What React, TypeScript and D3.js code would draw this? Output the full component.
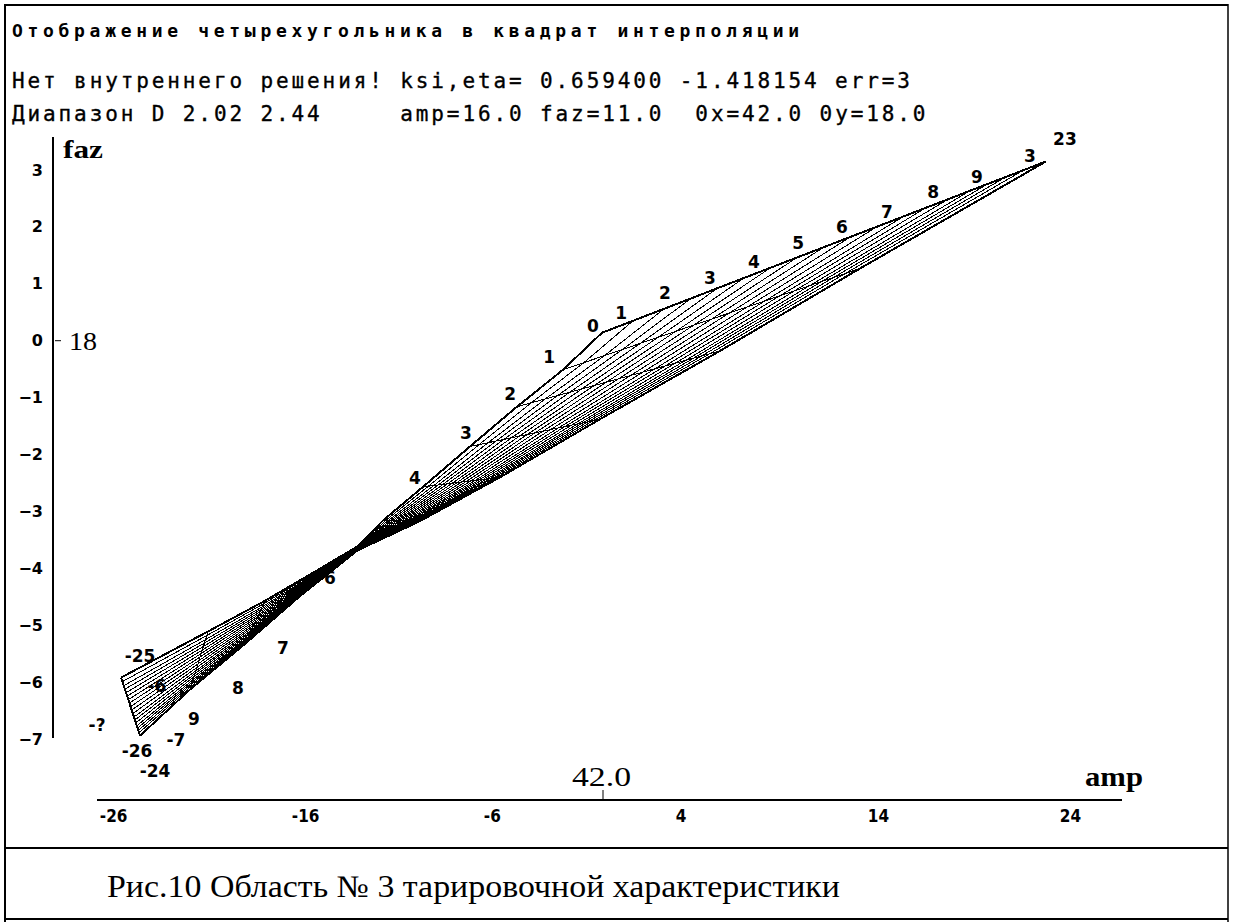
import React from 'react';
import * as d3 from 'd3';

const W = 1233;
const H = 922;

// Upper-left boundary of the quadrilateral: corner A -> waist -> knee D (amp, faz)
const upperAmp = [-25.1, -20.57, -17.6, -15.16, -12.81, -11.46, -9.38, -6.93, -4.48, -2.08, -0.05];
const upperFaz = [-5.92, -5.11, -4.57, -4.09, -3.62, -3.16, -2.57, -1.86, -1.16, -0.51, 0.14];
// Lower boundary: corner B -> waist -> corner C
const lowerAmp = [-24.11, -21.51, -18.65, -15.89, -12.81, -9.53, -5.36, -0.16, 6.09, 13.39, 23.07];
const lowerFaz = [-6.94, -6.13, -5.33, -4.52, -3.69, -3.17, -2.4, -1.38, -0.18, 1.27, 3.15];
// eta levels of the interpolation lines between the two boundaries
const etaLevels = [0, 0.07, 0.14, 0.2, 0.26, 0.32, 0.38, 0.44, 0.5, 0.56, 0.62, 0.68, 0.73, 0.78, 0.83, 0.87, 0.91, 0.95, 1];

const yTicks = [3, 2, 1, 0, -1, -2, -3, -4, -5, -6, -7];
const xTicks = [-26, -16, -6, 4, 14, 24];

const labelText = ['0', '1', '2', '3', '4', '5', '6', '7', '8', '9', '3', '23',
  '1', '2', '3', '4',
  '6', '7', '8', '9', '-7', '-25', '-6', '-26', '-24', '-?'];
const labelAmp = [-0.52, 0.94, 3.23, 5.57, 7.86, 10.16, 12.45, 14.79, 17.19, 19.48, 22.24, 24.06,
  -2.81, -4.84, -7.14, -9.79,
  -14.22, -16.67, -19.01, -21.3, -22.24, -24.11, -23.23, -24.27, -23.33, -26.35];
const labelFaz = [0.25, 0.49, 0.84, 1.11, 1.39, 1.72, 2.0, 2.27, 2.62, 2.88, 3.25, 3.55,
  -0.28, -0.93, -1.62, -2.41,
  -4.17, -5.4, -6.1, -6.64, -7.01, -5.54, -6.06, -7.21, -7.57, -6.75];

const titleText = 'Отображение четырехугольника в квадрат интерполяции';
const infoLine1 = 'Нет внутреннего решения! ksi,eta= 0.659400 -1.418154 err=3';
const infoLine2 = 'Диапазон D 2.02 2.44     amp=16.0 faz=11.0  0x=42.0 0y=18.0';
const caption = 'Рис.10 Область № 3 тарировочной характеристики';

const CELL = 15.55;

export default function App() {
  const x = d3.scaleLinear().domain([-26, 24]).range([103.8, 1063.8]);
  const y = d3.scaleLinear().domain([-7, 3]).range([739, 170]);
  const line = d3.line<[number, number]>().x((d) => x(d[0])).y((d) => y(d[1]));

  const n = upperAmp.length;
  const etaPaths = etaLevels.map((t) =>
    line(d3.range(n).map((k) => [
      upperAmp[k] * (1 - t) + lowerAmp[k] * t,
      upperFaz[k] * (1 - t) + lowerFaz[k] * t,
    ] as [number, number])) as string
  );
  const ksiPaths = d3.range(n).map((k) =>
    line([[upperAmp[k], upperFaz[k]], [lowerAmp[k], lowerFaz[k]]]) as string
  );
  const upperPath = line(d3.range(n).map((k) => [upperAmp[k], upperFaz[k]] as [number, number])) as string;
  const lowerPath = line(d3.range(n).map((k) => [lowerAmp[k], lowerFaz[k]] as [number, number])) as string;

  const mono = "'DejaVu Sans Mono', monospace";
  const serif = "'Liberation Serif', 'DejaVu Serif', serif";
  const sansB = "'DejaVu Sans', sans-serif";

  return (
    <svg width={W} height={H} style={{ position: 'absolute', left: 0, top: 0, background: '#fff' }}>
      <rect x={0} y={0} width={W} height={H} fill="#fff" />
      {/* frame */}
      <line x1={5} y1={5} x2={1228} y2={5} stroke="#000" strokeWidth={2} />
      <line x1={5} y1={4} x2={5} y2={922} stroke="#000" strokeWidth={2} />
      <line x1={1228} y1={4} x2={1228} y2={922} stroke="#000" strokeWidth={1.5} />
      <line x1={5} y1={848} x2={1228} y2={848} stroke="#000" strokeWidth={2} />
      <line x1={5} y1={919} x2={1228} y2={919} stroke="#000" strokeWidth={2} />

      {/* header texts */}
      <text x={12} y={37} fontFamily={mono} fontWeight="bold" fontSize={18}
        textLength={titleText.length * CELL - 6} lengthAdjust="spacing">{titleText}</text>
      <text x={12} y={88} fontFamily={mono} fontSize={21} stroke="#000" strokeWidth={0.35}
        xmlSpace="preserve" style={{ whiteSpace: 'pre' }}
        textLength={infoLine1.length * CELL - 4} lengthAdjust="spacing">{infoLine1}</text>
      <text x={12} y={121} fontFamily={mono} fontSize={21} stroke="#000" strokeWidth={0.35}
        xmlSpace="preserve" style={{ whiteSpace: 'pre' }}
        textLength={infoLine2.length * CELL - 4} lengthAdjust="spacing">{infoLine2}</text>

      {/* y axis */}
      <line x1={53} y1={137} x2={53} y2={y(-7) - 1} stroke="#000" strokeWidth={2} />
      {yTicks.map((v) => (
        <text key={'yt' + v} x={43} y={y(v)} textAnchor="end" dominantBaseline="central"
          fontFamily={sansB} fontWeight="bold" fontSize={16}>{v < 0 ? '−' + Math.abs(v) : String(v)}</text>
      ))}
      <text x={63} y={158} fontFamily={serif} fontWeight="bold" fontSize={26}
        textLength={40} lengthAdjust="spacingAndGlyphs">faz</text>
      <line x1={55} y1={y(0)} x2={61} y2={y(0)} stroke="#000" strokeWidth={1} />
      <text x={69} y={y(0) + 9} fontFamily={serif} fontSize={26}
        textLength={28} lengthAdjust="spacingAndGlyphs">18</text>

      {/* x axis */}
      <line x1={97} y1={800} x2={1122} y2={800} stroke="#000" strokeWidth={2} />
      <line x1={x(0)} y1={790} x2={x(0)} y2={800} stroke="#000" strokeWidth={1} />
      <text x={x(0) - 31} y={786} fontFamily={serif} fontSize={27}
        textLength={59} lengthAdjust="spacingAndGlyphs">42.0</text>
      <text x={1085} y={786} fontFamily={serif} fontWeight="bold" fontSize={27}
        textLength={58} lengthAdjust="spacingAndGlyphs">amp</text>
      {xTicks.map((v) => (
        <text key={'xt' + v} x={x(v) - 4} y={822} fontFamily={sansB} fontWeight="bold" fontSize={17}
          style={{ fontStretch: 'condensed' }}>{String(v)}</text>
      ))}

      {/* mesh */}
      <g fill="none" stroke="#000" shapeRendering="crispEdges">
        {etaPaths.map((d, i) => <path key={'e' + i} d={d} strokeWidth={1} />)}
        {ksiPaths.map((d, i) => <path key={'k' + i} d={d} strokeWidth={1} />)}
        <path d={upperPath} strokeWidth={2} />
        <path d={lowerPath} strokeWidth={2} />
        <path d={ksiPaths[0]} strokeWidth={2} />
        <path d={ksiPaths[n - 1]} strokeWidth={2} />
      </g>

      {/* point labels */}
      {labelText.map((t, i) => (
        <text key={'l' + i} x={x(labelAmp[i])} y={y(labelFaz[i])} textAnchor="middle" dominantBaseline="central"
          fontFamily={sansB} fontWeight="bold" fontSize={17}>{t}</text>
      ))}

      {/* caption */}
      <text x={107} y={897} fontFamily={serif} fontSize={31}
        textLength={733} lengthAdjust="spacingAndGlyphs">{caption}</text>
    </svg>
  );
}
